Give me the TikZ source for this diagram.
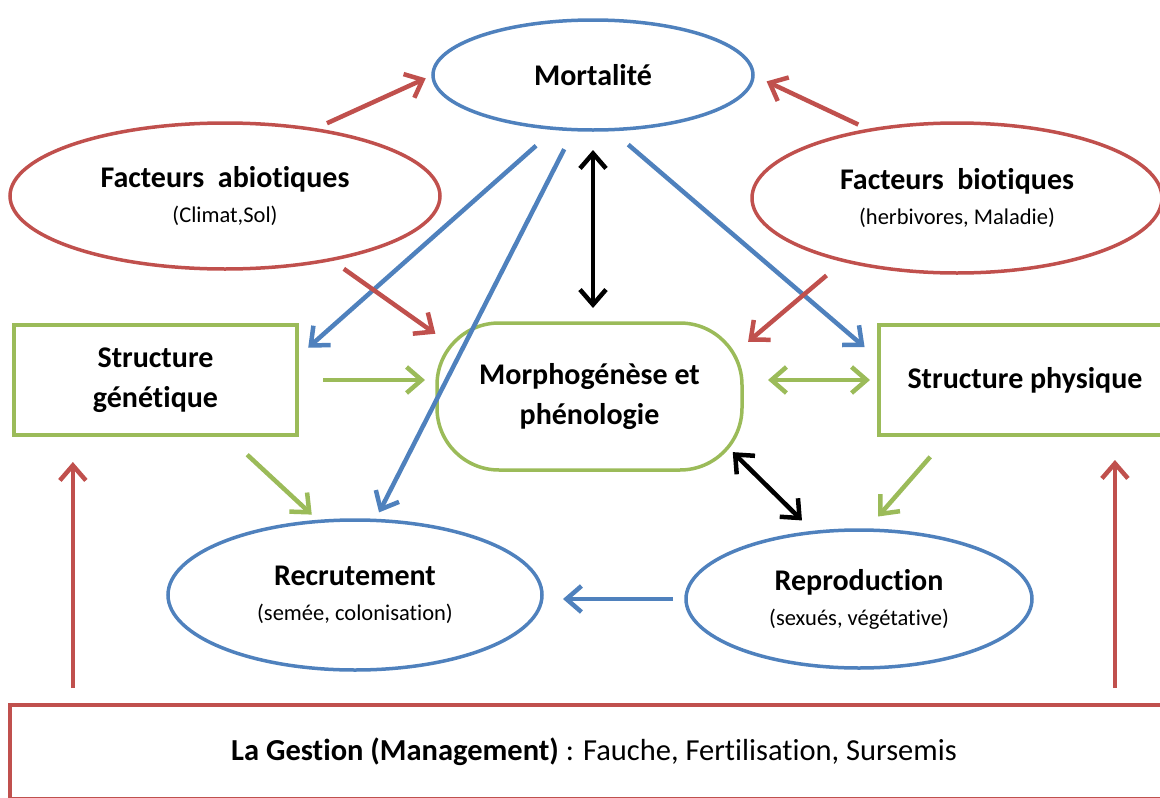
\documentclass[tikz,border=0pt]{standalone}
\usepackage{fontspec}
\setmainfont[Ligatures=NoCommon]{Carlito}
\usetikzlibrary{shapes.geometric,arrows.meta,calc}
\definecolor{cblue}{RGB}{79,129,189}
\definecolor{cred}{RGB}{192,80,77}
\definecolor{cgreen}{RGB}{155,187,89}
\newcommand\subtxt[1]{{\fontsize{22.5}{26}\selectfont\mdseries #1}}
\begin{document}
\begin{tikzpicture}[x=1pt,y=-1pt,
  txt/.style={font=\fontsize{30}{40}\selectfont\bfseries, align=center, text=black, inner sep=0pt, outer sep=0pt},
  blueell/.style={txt, ellipse, draw=cblue, line width=3.5pt},
  redell/.style={txt, ellipse, draw=cred, line width=3.5pt},
  greenbox/.style={txt, rectangle, draw=cgreen, line width=3.5pt},
  redbox/.style={txt, rectangle, draw=cred, line width=4.5pt},
  tipend/.tip={Straight Barb[length=15pt,width=26pt]},
  arr/.style={line width=4.5pt, -tipend},
  dbl/.style={line width=4.5pt, tipend-tipend},
  redarr/.style={arr, draw=cred},
  bluearr/.style={arr, draw=cblue},
  greenarr/.style={arr, draw=cgreen},
  greendbl/.style={dbl, draw=cgreen},
  blackdbl/.style={dbl, draw=black}]
\useasboundingbox (0,0) rectangle (1160,798);
\clip (0,0) rectangle (1160,798);

% nodes
\node[blueell, minimum width=320pt, minimum height=110pt] (mort) at (593,75) {Mortalité};
\node[redell, minimum width=430pt, minimum height=146pt] (abio) at (225,196)
  {Facteurs\ \ abiotiques\\[-5pt]\subtxt{(Climat,Sol)}};
\node[redell, minimum width=410pt, minimum height=150pt] (bio) at (957,198)
  {Facteurs\ \ biotiques\\[-5pt]\subtxt{(herbivores, Maladie)}};
\node[greenbox, minimum width=283pt, minimum height=110pt] (sg) at (155.5,380)
  {Structure\\génétique};
\node[greenbox, rounded corners=62pt, minimum width=305pt, minimum height=147pt] (morph) at (589.5,396.5)
  {Morphogénèse et\\phénologie};
\node[greenbox, minimum width=292pt, minimum height=110pt] (sp) at (1025,380)
  {Structure physique};
\node[blueell, minimum width=374pt, minimum height=150pt] (recr) at (355,595)
  {Recrutement\\[-5pt]\subtxt{(semée, colonisation)}};
\node[blueell, minimum width=346pt, minimum height=138pt] (repro) at (859,599)
  {Reproduction\\[-5pt]\subtxt{(sexués, végétative)}};
\node[redbox, minimum width=1168pt, minimum height=94pt, font=\fontsize{30.5}{36}\selectfont\mdseries] (gest) at (594,752)
  {\textbf{La Gestion (Management)} : Fauche, Fertilisation, Sursemis};

% connectors
\draw[redarr, shorten <=15pt, shorten >=8pt] (abio.37) -- (mort.180);
\draw[redarr, shorten <=13pt, shorten >=15pt] (bio.142) -- (mort.0);
\draw[bluearr, shorten <=26pt, shorten >=15pt] (mort.235) -- (sg.9);
\draw[bluearr, shorten <=22pt, shorten >=9pt] (mort.251) -- (recr.75);
\draw[bluearr, shorten <=23pt, shorten >=19pt] (mort.288) -- (sp.172);
\draw[blackdbl, shorten <=20pt, shorten >=15pt] (mort.south) -- (mort.south |- morph.north);
\draw[redarr, shorten <=16pt, shorten >=2pt] (abio.329) -- (morph.158);
\draw[redarr, shorten <=23pt, shorten >=8pt] (bio.209) -- (morph.18);
\draw[greenarr, shorten <=26pt, shorten >=12pt] (sg.east) -- (sg.east -| morph.west);
\draw[greendbl, shorten <=26pt, shorten >=9pt] (sp.west -| morph.east) -- (sp.west);
\draw[greenarr, shorten <=29pt, shorten >=10pt] (sg.322) -- (recr.116);
\draw[greenarr, shorten <=29pt, shorten >=18pt] (sp.216) -- (repro.84);
\draw[blackdbl, shorten <=-13pt, shorten >=17pt] (morph.337) -- (repro.124);
\draw[bluearr, shorten <=13pt, shorten >=21pt] (repro.west) -- (repro.west -| recr.east);
\coordinate (sgin) at ($(sg.south west)!0.208!(sg.south east)$);
\draw[redarr, shorten <=17pt, shorten >=27pt] (sgin |- gest.north) -- (sgin);
\coordinate (spin) at ($(sp.south west)!0.808!(sp.south east)$);
\draw[redarr, shorten <=17pt, shorten >=25pt] (spin |- gest.north) -- (spin);
\end{tikzpicture}
\end{document}
